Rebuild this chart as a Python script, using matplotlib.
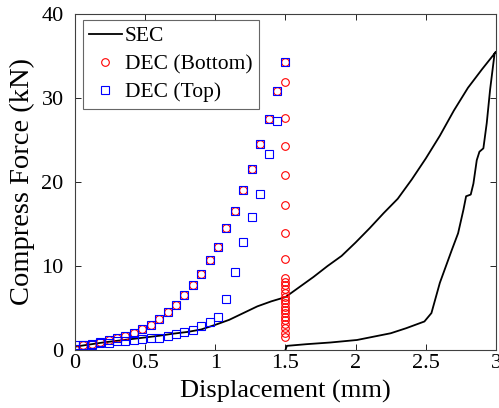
import matplotlib
matplotlib.use('Agg')
import matplotlib.pyplot as plt
import numpy as np

#SEC force-displacement path: loading to 3 mm, then unloading back to 1.5 mm
sec_x = [0.0, 0.1, 0.2, 0.3, 0.4, 0.5, 0.6, 0.7, 0.8, 0.9, 1.0, 1.1, 1.2, 1.3, 1.4,
         1.5, 1.6, 1.7, 1.8, 1.9, 2.0, 2.1, 2.2, 2.3, 2.4, 2.5, 2.6, 2.7, 2.8, 2.9, 3.0,
         2.99, 2.958, 2.934, 2.910, 2.882, 2.863, 2.839, 2.820, 2.787, 2.768,
         2.73, 2.685, 2.60, 2.54, 2.49, 2.36, 2.25, 2.13, 2.01, 1.82, 1.65, 1.51, 1.50]
sec_f = [0.4, 0.65, 0.9, 1.1, 1.3, 1.5, 1.7, 1.95, 2.15, 2.45, 3.0, 3.6, 4.4, 5.2, 5.8,
         6.3, 7.5, 8.7, 10.0, 11.2, 12.8, 14.5, 16.3, 18.0, 20.3, 22.8, 25.5, 28.5, 31.2, 33.4, 35.5,
         35.3, 31.0, 27.0, 24.0, 23.6, 22.6, 19.8, 18.5, 18.3, 16.7,
         13.9, 11.9, 8.0, 4.4, 3.4, 2.6, 2.0, 1.6, 1.2, 0.9, 0.7, 0.5, 0.0]

#DEC loading branch (shared by both sensors), 0.06 mm steps
dec_x = [0.0, 0.06, 0.12, 0.18, 0.24, 0.30, 0.36, 0.42, 0.48, 0.54, 0.60, 0.66, 0.72,
         0.78, 0.84, 0.90, 0.96, 1.02, 1.08, 1.14, 1.20, 1.26, 1.32, 1.38, 1.44, 1.50]
dec_load = [0.1, 0.6, 0.7, 1.0, 1.2, 1.4, 1.7, 2.0, 2.5, 3.0, 3.7, 4.5, 5.4,
            6.5, 7.7, 9.0, 10.7, 12.3, 14.5, 16.5, 19.0, 21.5, 24.5, 27.5, 30.8, 34.3]

#Bottom sensor: unloading at constant 1.5 mm
bot_drop = [31.9, 27.6, 24.3, 20.8, 17.3, 13.9, 10.8, 8.6, 8.1, 7.7, 7.3, 6.8, 6.3,
            5.95, 5.6, 5.1, 4.8, 4.4, 3.9, 3.6, 3.1, 2.6, 2.0, 1.5]

#Top sensor: second branch
top_x = [0.0, 0.06, 0.12, 0.18, 0.24, 0.30, 0.36, 0.42, 0.48, 0.54, 0.60, 0.66, 0.72,
         0.78, 0.84, 0.90, 0.96, 1.02, 1.08, 1.14, 1.20, 1.26, 1.32, 1.38, 1.44]
top_f = [0.6, 0.6, 0.6, 0.8, 0.8, 1.1, 1.1, 1.2, 1.3, 1.4, 1.4, 1.7, 1.9,
         2.1, 2.4, 2.9, 3.3, 3.9, 6.1, 9.3, 12.9, 15.8, 18.6, 23.3, 27.3]

plt.rcParams['font.family'] = ['Liberation Serif', 'DejaVu Serif']

fig = plt.figure(figsize=(4.99, 4.08), dpi=100)
ax = fig.add_axes([0.150, 0.142, 0.844, 0.824])

ax.plot(sec_x, sec_f, '-', color='black', lw=1.3, label='SEC')

bx = dec_x[:-1] + [1.5] * (len(bot_drop) + 1)
bf = dec_load[:-1] + [dec_load[-1]] + bot_drop
ax.plot(bx, bf, 'o', ls='none', mfc='none', mec='red', ms=5.5, mew=0.8, label='DEC (Bottom)')

tx = dec_x + top_x
tf = dec_load + top_f
ax.plot(tx, tf, 's', ls='none', mfc='none', mec='blue', ms=6, mew=0.8, label='DEC (Top)')

ax.set_xlim(0, 3)
ax.set_ylim(0, 40)
ax.set_xticks([0, 0.5, 1, 1.5, 2, 2.5, 3])
ax.set_xticklabels(['0', '0.5', '1', '1.5', '2', '2.5', '3'])
ax.set_yticks([0, 10, 20, 30, 40])
ax.tick_params(direction='in', top=True, right=True, labelsize=16, length=4, width=0.6)
ax.tick_params(axis='x', pad=3)
ax.tick_params(axis='y', pad=8)
for s in ax.spines.values():
    s.set_linewidth(0.8)
    s.set_color('#404040')

ax.set_xlabel('Displacement (mm)', fontsize=19, labelpad=5)
ax.set_ylabel('Compress Force (kN)', fontsize=20.5)
ax.yaxis.set_label_coords(-0.095, 0.5)

leg = ax.legend(loc='upper left', fontsize=15.5, frameon=True, fancybox=False,
                edgecolor='#404040', handlelength=1.5, handletextpad=0.15,
                borderpad=0.3, labelspacing=0.36, borderaxespad=0,
                bbox_to_anchor=(0.019, 0.982))
leg.get_frame().set_linewidth(0.8)

fig.savefig('out.png', dpi=100)
